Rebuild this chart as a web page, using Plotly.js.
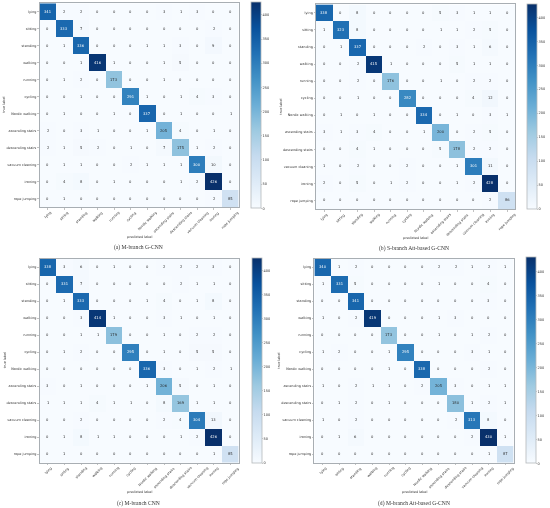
<!DOCTYPE html>
<html>
<head>
<meta charset="utf-8">
<script src="https://cdn.plot.ly/plotly-3.0.1.min.js"></script>
<style>html,body{margin:0;padding:0;background:#fff}#c{width:550px;height:508px;filter:blur(0.3px)}</style>
</head>
<body>
<div id="c"></div>
<script>
const labels = ["lying","sitting","standing","walking","running","cycling","Nordic walking","ascending stairs","descending stairs","vacuum cleaning","ironing","rope jumping"];
const captions = ["(a) M-branch G-CNN","(b) S-branch Att-based G-CNN","(c) M-branch CNN","(d) M-branch Att-based G-CNN"];
const matrixA = [
[341,2,2,0,0,0,0,3,1,3,0,0],
[0,333,7,0,0,0,0,0,0,0,2,0],
[0,1,336,0,0,0,1,1,3,0,9,0],
[0,0,1,416,1,0,0,1,5,0,0,0],
[0,1,2,0,173,0,0,1,0,0,0,0],
[0,0,1,0,0,291,1,0,1,4,3,0],
[0,1,0,0,1,0,337,0,1,0,0,1],
[2,0,3,1,0,0,1,205,4,0,1,0],
[2,1,5,2,0,1,0,7,175,1,2,0],
[0,1,1,0,0,2,1,1,1,300,10,0],
[0,4,8,0,1,0,0,0,1,2,426,0],
[0,1,0,0,0,0,0,0,0,0,2,85]];
const matrixB = [
[338,0,8,0,0,0,0,5,3,1,1,0],
[1,323,8,0,0,0,0,1,1,2,5,0],
[0,1,337,0,0,0,2,0,3,1,6,0],
[0,0,2,415,1,0,0,0,5,1,1,0],
[0,0,2,0,176,0,0,1,0,2,2,0],
[0,0,1,0,0,282,0,0,0,4,12,0],
[0,1,0,1,0,0,334,0,1,0,3,1],
[3,1,3,4,0,0,1,200,0,2,5,0],
[0,0,4,1,0,0,0,5,178,2,2,0],
[1,0,2,0,0,2,0,0,1,301,11,0],
[2,0,5,0,1,2,0,0,1,2,428,0],
[0,0,0,0,0,0,0,0,0,0,2,86]];
const matrixC = [
[338,3,6,0,1,0,0,2,2,2,3,0],
[0,331,7,0,0,0,0,0,2,1,1,0],
[0,1,333,0,0,0,1,4,0,1,8,0],
[0,0,3,414,1,0,0,3,1,0,1,0],
[0,0,1,1,179,0,0,1,0,2,2,0],
[0,1,2,0,0,295,0,1,0,5,5,0],
[0,0,0,0,0,0,336,3,0,1,2,1],
[3,0,1,0,0,0,1,206,5,0,1,0],
[1,1,1,4,1,1,0,8,169,1,1,0],
[0,0,2,0,0,0,0,2,4,304,13,0],
[0,1,8,1,1,0,0,0,1,2,426,0],
[0,1,0,0,0,0,0,0,0,0,1,85]];
const matrixD = [
[340,1,2,0,0,0,0,2,2,1,2,1],
[1,331,5,0,0,0,0,1,0,0,4,0],
[0,0,341,0,0,0,0,0,0,0,3,0],
[1,0,2,419,0,0,0,1,3,0,0,0],
[0,0,0,0,173,0,0,1,0,1,2,0],
[1,2,0,0,1,295,0,0,0,3,1,0],
[0,0,0,0,1,0,338,0,0,0,2,0],
[1,0,2,1,1,0,2,205,3,0,1,1],
[0,1,2,0,1,0,0,0,180,1,2,1],
[1,0,2,0,0,0,0,0,2,313,8,0],
[0,1,6,0,0,0,0,0,0,2,430,1],
[0,0,0,0,0,0,0,0,0,0,1,87]];
const matrices = [matrixA,matrixB,matrixC,matrixD];

const W=550,H=508;
const panels = [
 {p:[39.5,238.8,3.3,207.3], cb:[250.7,2.7,208.3], cap:[138,247.5], tl:4.5, pl:236.5},
 {p:[316,515.3,4.4,209],    cb:[527.3,4,209],     cap:[414,248], tl:281,pl:237.5},
 {p:[39.5,238.8,258.7,462.7],cb:[251.7,258,463],  cap:[138,503], tl:4.5, pl:491.5},
 {p:[314.4,513.7,258.7,462.7],cb:[526,257.7,463.3],cap:[414,503],tl:279,pl:491.5}
];
const blues=[[0,'#f7fbff'],[0.125,'#deebf7'],[0.25,'#c6dbef'],[0.375,'#9ecae1'],[0.5,'#6baed6'],[0.625,'#4292c6'],[0.75,'#2171b5'],[0.875,'#08519c'],[1,'#08306b']];
const font={family:'"DejaVu Sans", sans-serif',color:'#333'};
const idx=labels.map((_,i)=>i);
const data=[],annotations=[],layout={};
const centered={xanchor:'center',yanchor:'middle',showarrow:false,borderpad:0};

panels.forEach((P,k)=>{
  const s=k===0?'':String(k+1), m=matrices[k];
  const zmax=Math.max(...m.flat());
  data.push({type:'heatmap',z:m,x:idx,y:idx,xaxis:'x'+s,yaxis:'y'+s,colorscale:blues,zmin:0,zmax:zmax,
    hoverinfo:'skip',
    colorbar:{x:P.cb[0]/W,xanchor:'left',xpad:0,ypad:0,thickness:10,thicknessmode:'pixels',
      y:1-P.cb[2]/H,yanchor:'bottom',len:(P.cb[2]-P.cb[1])/H,lenmode:'fraction',
      tickvals:[0,50,100,150,200,250,300,350,400],ticks:'outside',ticklen:1,tickwidth:0.4,tickcolor:'#777',
      tickfont:{...font,size:3.5},outlinecolor:'#b4b8bb',outlinewidth:0.8}});
  const ax={ticks:'outside',ticklen:1.5,tickwidth:0.4,tickcolor:'#666',
    showgrid:false,zeroline:false,showline:true,mirror:true,linecolor:'#a8aeb3',linewidth:1,tickfont:{...font,size:3.4}};
  layout['xaxis'+s]={...ax,tickvals:idx,showticklabels:false,domain:[P.p[0]/W,P.p[1]/W],range:[-0.5,11.5],anchor:'y'+s};
  layout['yaxis'+s]={...ax,tickvals:idx,ticktext:labels,domain:[1-P.p[3]/H,1-P.p[2]/H],range:[11.5,-0.5],anchor:'x'+s};
  labels.forEach((t,c)=>{
    annotations.push({...centered,xref:'x'+s,yref:'paper',x:c,y:1-(P.p[3]+2.2)/H,text:t,textangle:-45,
      yanchor:'top',font:{...font,size:3.4}});
  });
  m.forEach((row,r)=>row.forEach((v,c)=>{
    annotations.push({...centered,xref:'x'+s,yref:'y'+s,x:c,y:r,text:String(v),
      font:{...font,size:3.7,color:v>zmax/2?'#ffffff':'#2a2a2a'}});
  }));
  annotations.push({...centered,xref:'paper',yref:'paper',x:P.cap[0]/W,y:1-P.cap[1]/H,text:captions[k],
    font:{family:'"Liberation Serif", serif',size:5.6,color:'#333'}});
  annotations.push({...centered,xref:'paper',yref:'paper',x:(P.p[0]+P.p[1])/2/W,y:1-P.pl/H,text:'predicted label',
    font:{...font,size:3.4}});
  annotations.push({...centered,xref:'paper',yref:'paper',x:P.tl/W,y:1-(P.p[2]+P.p[3])/2/H,text:'true label',textangle:-90,
    font:{...font,size:3.4}});
});
Object.assign(layout,{width:W,height:H,margin:{l:0,r:0,t:0,b:0},paper_bgcolor:'#fff',plot_bgcolor:'#fff',showlegend:false,annotations});
Plotly.newPlot('c',data,layout,{displayModeBar:false,staticPlot:true});
</script>
</body>
</html>
